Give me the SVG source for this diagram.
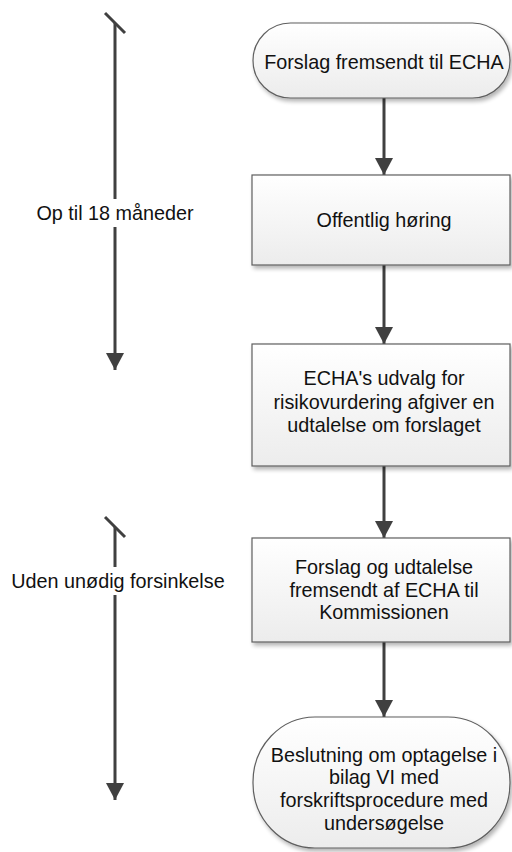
<svg xmlns="http://www.w3.org/2000/svg" width="512" height="852" viewBox="0 0 512 852">
<style>
.node{fill:url(#g);stroke:#5f5f5f;stroke-width:1.2;filter:url(#sh)}
.t{font-family:"Liberation Sans",Arial,sans-serif;font-size:19.8px;fill:#111;text-anchor:middle}
.c{stroke:#404040;stroke-width:3;fill:none}
.tick{stroke:#404040;stroke-width:3;fill:none}
</style>
<defs>
<linearGradient id="g" x1="0" y1="0" x2="0" y2="1">
<stop offset="0" stop-color="#ffffff"/>
<stop offset="1" stop-color="#ececec"/>
</linearGradient>
<filter id="sh" x="-10%" y="-10%" width="130%" height="140%">
<feGaussianBlur in="SourceAlpha" stdDeviation="2"/>
<feOffset dx="2" dy="3" result="b"/>
<feComponentTransfer><feFuncA type="linear" slope="0.3"/></feComponentTransfer>
<feMerge><feMergeNode/><feMergeNode in="SourceGraphic"/></feMerge>
</filter>
<marker id="ah" markerUnits="userSpaceOnUse" markerWidth="18" markerHeight="18" viewBox="0 0 18 18" refX="17" refY="9" orient="auto">
<path d="M0,0 L17,9 L0,18 z" fill="#404040"/>
</marker>
</defs>
<g id="connectors">
<line class="c" x1="384" y1="98" x2="384" y2="175" marker-end="url(#ah)"/>
<line class="c" x1="384" y1="265" x2="384" y2="344" marker-end="url(#ah)"/>
<line class="c" x1="384" y1="466" x2="384" y2="538" marker-end="url(#ah)"/>
<line class="c" x1="384" y1="642" x2="384" y2="717" marker-end="url(#ah)"/>
<line class="c" x1="115" y1="23" x2="115" y2="370" marker-end="url(#ah)"/>
<line class="tick" x1="105" y1="13" x2="125" y2="33"/>
<line class="c" x1="115" y1="527" x2="115" y2="800" marker-end="url(#ah)"/>
<line class="tick" x1="105" y1="517" x2="125" y2="537"/>
</g>
<g id="label1">
<rect x="32" y="199" width="166" height="28" fill="#fff"/>
<text class="t" x="115" y="220">Op til 18 måneder</text>
</g>
<g id="label2">
<rect x="3" y="567" width="230" height="28" fill="#fff"/>
<text class="t" x="118" y="588">Uden unødig forsinkelse</text>
</g>
<g id="n1">
<rect class="node" x="253" y="23" width="257" height="75" rx="37.5" ry="37.5"/>
<text class="t" x="384" y="69">Forslag fremsendt til ECHA</text>
</g>
<g id="n2">
<rect class="node" x="252" y="175" width="258" height="90"/>
<text class="t" x="384" y="227">Offentlig høring</text>
</g>
<g id="n3">
<rect class="node" x="252" y="344" width="258" height="122"/>
<text class="t" x="384" y="385">ECHA's udvalg for</text>
<text class="t" x="384" y="409">risikovurdering afgiver en</text>
<text class="t" x="384" y="432">udtalelse om forslaget</text>
</g>
<g id="n4">
<rect class="node" x="252" y="538" width="258" height="104"/>
<text class="t" x="384" y="574">Forslag og udtalelse</text>
<text class="t" x="384" y="597">fremsendt af ECHA til</text>
<text class="t" x="384" y="619">Kommissionen</text>
</g>
<g id="n5">
<rect class="node" x="253" y="717" width="257" height="131" rx="62" ry="65"/>
<text class="t" x="384" y="762">Beslutning om optagelse i</text>
<text class="t" x="384" y="784">bilag VI med</text>
<text class="t" x="384" y="807">forskriftsprocedure med</text>
<text class="t" x="384" y="830">undersøgelse</text>
</g>
</svg>
